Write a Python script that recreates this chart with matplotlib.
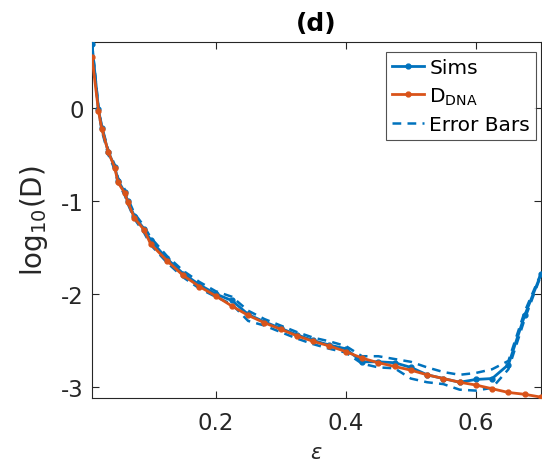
import matplotlib
matplotlib.use("Agg")
import matplotlib.pyplot as plt

eps = [0.01, 0.02, 0.025, 0.035, 0.045, 0.05, 0.06, 0.065, 0.075, 0.09, 0.1,
       0.125, 0.15, 0.175, 0.2, 0.225, 0.25, 0.275, 0.3, 0.325, 0.35, 0.375,
       0.4, 0.425, 0.45, 0.475, 0.5, 0.525, 0.55, 0.575, 0.6, 0.625, 0.65,
       0.675, 0.7]
sims = [0.69, -0.01, -0.21, -0.47, -0.63, -0.78, -0.90, -1.00, -1.16, -1.30, -1.42,
        -1.62, -1.78, -1.90, -2.00, -2.07, -2.22, -2.30, -2.37, -2.44, -2.50, -2.55,
        -2.59, -2.73, -2.73, -2.74, -2.79, -2.87, -2.91, -2.95, -2.92, -2.91, -2.76,
        -2.23, -1.79]
upper = [0.70, 0.01, -0.19, -0.45, -0.61, -0.75, -0.87, -0.97, -1.13, -1.27, -1.39,
         -1.59, -1.75, -1.87, -1.97, -2.03, -2.18, -2.27, -2.34, -2.41, -2.47, -2.51,
         -2.56, -2.67, -2.67, -2.70, -2.73, -2.79, -2.84, -2.87, -2.85, -2.81, -2.72,
         -2.19, -1.78]
lower = [0.68, -0.03, -0.24, -0.50, -0.66, -0.81, -0.93, -1.03, -1.19, -1.34, -1.47,
         -1.66, -1.82, -1.94, -2.03, -2.11, -2.29, -2.34, -2.41, -2.48, -2.54, -2.59,
         -2.63, -2.75, -2.79, -2.80, -2.91, -2.95, -2.97, -3.03, -3.04, -3.01, -2.81,
         -2.27, -1.80]
ddna = [0.55, -0.03, -0.22, -0.47, -0.64, -0.80, -0.91, -1.01, -1.18, -1.31, -1.46,
        -1.64, -1.80, -1.92, -2.02, -2.13, -2.23, -2.31, -2.38, -2.45, -2.51, -2.56,
        -2.62, -2.69, -2.74, -2.78, -2.82, -2.87, -2.91, -2.95, -2.98, -3.02, -3.06,
        -3.08, -3.11]

blue = "#0072BD"
orange = "#D95319"
axc = "#262626"

fig = plt.figure(figsize=(5.42, 4.64), dpi=100)
ax = fig.add_axes([0.1697, 0.140, 0.8284, 0.767])

ax.plot(eps, sims, color=blue, lw=2, marker='o', ms=3.5, label='Sims', zorder=3)
ax.plot(eps, ddna, color=orange, lw=2, marker='o', ms=3.5, label='D$_{\\mathregular{DNA}}$', zorder=4)
ax.plot(eps, upper, color=blue, lw=1.8, ls=(0, (3.5, 2.5)), label='Error Bars', zorder=2)
ax.plot(eps, lower, color=blue, lw=1.8, ls=(0, (3.5, 2.5)), zorder=2)

ax.set_xlim(0.01, 0.70)
ax.set_ylim(-3.12, 0.71)
ax.set_xticks([0.2, 0.4, 0.6])
ax.set_xticklabels(['0.2', '0.4', '0.6'])
ax.set_yticks([-3, -2, -1, 0])
ax.set_yticklabels(['-3', '-2', '-1', '0'])
ax.tick_params(direction='in', top=True, right=True, labelsize=16.5, colors=axc,
               length=5, width=0.8)
ax.tick_params(axis='x', pad=9)
ax.tick_params(axis='y', pad=6)
for s in ax.spines.values():
    s.set_color(axc)
    s.set_linewidth(0.8)

ax.set_title('(d)', fontsize=18, fontweight='bold', pad=9, color='black')
ax.set_ylabel('log$_{\\mathregular{10}}$(D)', fontsize=20, color=axc, labelpad=8)
ax.set_xlabel('$\\epsilon$', fontsize=15, color=axc, labelpad=6)

leg = ax.legend(loc='upper right', fontsize=14.5, frameon=True, fancybox=False,
                edgecolor=axc, handlelength=1.6, handletextpad=0.25,
                borderpad=0.3, labelspacing=0.4, borderaxespad=0,
                bbox_to_anchor=(0.989, 0.972))
leg.get_frame().set_linewidth(0.8)

fig.savefig('out.png', dpi=100)
